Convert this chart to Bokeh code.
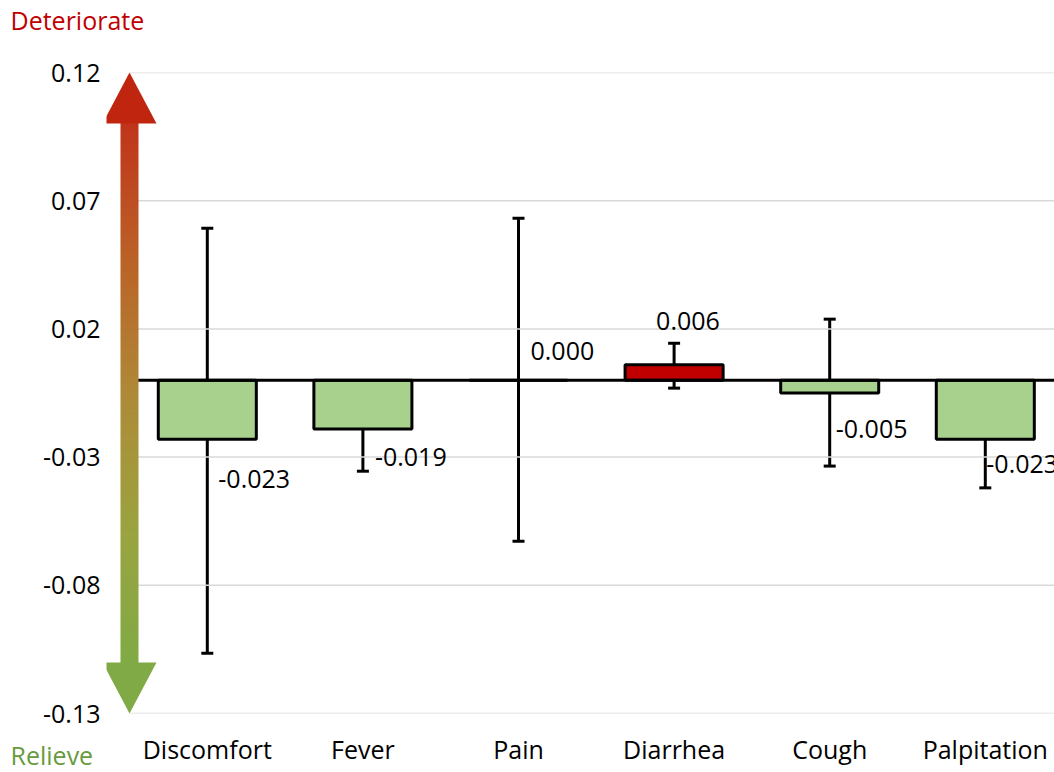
import numpy as np
from bokeh.plotting import figure
from bokeh.models import (Range1d, FixedTicker, ColumnDataSource, Whisker, TeeHead, Title)
from bokeh.core.properties import value
from bokeh.embed import file_html
from bokeh.resources import INLINE

# --- data -------------------------------------------------------------
categories = ["Discomfort", "Fever", "Pain", "Diarrhea", "Cough", "Palpitation"]
effects = [-0.023, -0.019, 0.000, 0.006, -0.005, -0.023]
ci_lower = [-0.1065, -0.0355, -0.0628, -0.0031, -0.0335, -0.0420]
ci_upper = [0.0593, -0.0020, 0.0632, 0.0144, 0.0238, -0.0031]
y_ticks = [0.12, 0.07, 0.02, -0.03, -0.08, -0.13]
y_tick_labels = ["0.12", "0.07", "0.02", "-0.03", "-0.08", "-0.13"]

# --- label placement (pixel offsets from the bar end) ----------------
label_dx = [11, 12, 12, -18, 6, 1]
label_dy = [40, 28, -29, -44, 36, 25]

FONT = "Open Sans"
FS = "25px"
W, H = 1054, 772
FRAME_LEFT, FRAME_TOP, FRAME_BOTTOM = 106, 72, 713
X0 = 129            # pixel where the category axis starts
CAT_PX = 155.6      # pixel width of one category
Y_MIN, Y_MAX = y_ticks[-1], y_ticks[0]
Y_PX = (FRAME_BOTTOM - FRAME_TOP) / (Y_MAX - Y_MIN)


def px_to_x(px):
    return (px - X0) / CAT_PX


def px_to_y(py):
    return Y_MAX - (py - FRAME_TOP) / Y_PX


p = figure(width=W, height=H, output_backend="svg", toolbar_location=None,
           x_range=Range1d(px_to_x(FRAME_LEFT), px_to_x(W)),
           y_range=Range1d(Y_MIN, Y_MAX),
           min_border_left=FRAME_LEFT, min_border_right=0,
           min_border_top=FRAME_TOP, min_border_bottom=H - FRAME_BOTTOM)
p.outline_line_color = None
p.background_fill_color = "white"
p.border_fill_color = "white"
p.xgrid.visible = False
p.ygrid.visible = False

# direction captions above and below the value axis
# (the blank second line lifts the caption toward the top edge)
p.title.text = "Deteriorate\n "
p.title.align = "left"
p.title.offset = 10 - FRAME_LEFT
p.title.text_font = FONT
p.title.text_font_size = FS
p.title.text_font_style = "normal"
p.title.text_color = "#C00000"
p.title.vertical_align = "top"
p.title.standoff = 0

relieve = Title(text="Relieve", align="left", offset=10 - FRAME_LEFT,
                text_font=FONT, text_font_size=FS, text_font_style="normal",
                text_color="#6A9A3D", vertical_align="top", standoff=-62)

n = len(categories)
xs = np.arange(n) + 0.5

# horizontal gridlines starting at the category axis
p.segment(x0=[0] * len(y_ticks), x1=[n + 1] * len(y_ticks), y0=y_ticks, y1=y_ticks,
          line_color="#D9D9D9", line_width=1.5)

# bars
colors = ["#C00000" if v > 0 else "#A9D18E" for v in effects]
src = ColumnDataSource(dict(x=xs, top=effects, lo=ci_lower, hi=ci_upper, color=colors,
                            label=[f"{v:.3f}" for v in effects],
                            dx=label_dx, dy=label_dy))
p.vbar(x="x", top="top", bottom=0, width=0.63, fill_color="color",
       line_color="black", line_width=3, source=src)

# zero line
p.segment(x0=[0], x1=[n + 1], y0=[0], y1=[0], line_color="black", line_width=3)

# error bars
whisker = Whisker(base="x", lower="lo", upper="hi", source=src,
                  line_color="black", line_width=3,
                  upper_head=TeeHead(size=12, line_color="black", line_width=3),
                  lower_head=TeeHead(size=12, line_color="black", line_width=3))
p.add_layout(whisker)

# value labels
p.text(x="x", y="top", text="label", x_offset="dx", y_offset="dy", source=src,
       text_font=value(FONT), text_font_size=FS, text_color="black",
       text_align="left", text_baseline="middle")

# gradient double-headed arrow along the value axis
head_h, head_half, shaft_half = 51, 27, 9
shaft_top_px = FRAME_TOP + head_h - 1
shaft_bot_px = FRAME_BOTTOM - head_h + 1
stops_px = [shaft_top_px, 265, 395, 535, shaft_bot_px]
stops_rgb = [(192, 52, 26), (186, 100, 40), (174, 138, 55), (154, 164, 64), (128, 170, 69)]
rows = np.arange(shaft_bot_px, shaft_top_px - 1, -1)  # image row 0 is the bottom
img = np.zeros((len(rows), 1), dtype=np.uint32)
view = img.view(dtype=np.uint8).reshape((len(rows), 1, 4))
for i, r in enumerate(rows):
    for k in range(3):
        view[i, 0, k] = int(round(np.interp(r, stops_px, [c[k] for c in stops_rgb])))
    view[i, 0, 3] = 255
p.image_rgba(image=[img], x=px_to_x(X0 - shaft_half), y=px_to_y(shaft_bot_px),
             dw=2 * shaft_half / CAT_PX, dh=(shaft_bot_px - shaft_top_px) / Y_PX)
p.patch(x=[px_to_x(X0 - head_half), 0, px_to_x(X0 + head_half)],
        y=[px_to_y(FRAME_TOP + head_h), Y_MAX, px_to_y(FRAME_TOP + head_h)],
        fill_color="#C0260F", line_color=None)
p.patch(x=[px_to_x(X0 - head_half), 0, px_to_x(X0 + head_half)],
        y=[px_to_y(FRAME_BOTTOM - head_h), Y_MIN, px_to_y(FRAME_BOTTOM - head_h)],
        fill_color="#80AA45", line_color=None)

# axes
p.xaxis.ticker = FixedTicker(ticks=list(xs))
p.xaxis.major_label_overrides = {float(x): c for x, c in zip(xs, categories)}
p.yaxis.ticker = FixedTicker(ticks=y_ticks)
p.yaxis.major_label_overrides = dict(zip(y_ticks, y_tick_labels))
for ax in (p.xaxis, p.yaxis):
    ax.axis_line_color = None
    ax.major_tick_line_color = None
    ax.minor_tick_line_color = None
    ax.major_label_text_font = FONT
    ax.major_label_text_font_size = FS
    ax.major_label_text_color = "black"
p.xaxis.major_label_standoff = 12
p.yaxis.major_label_standoff = 0

p.add_layout(relieve, "below")

open("out.html", "w").write(file_html(p, INLINE))
